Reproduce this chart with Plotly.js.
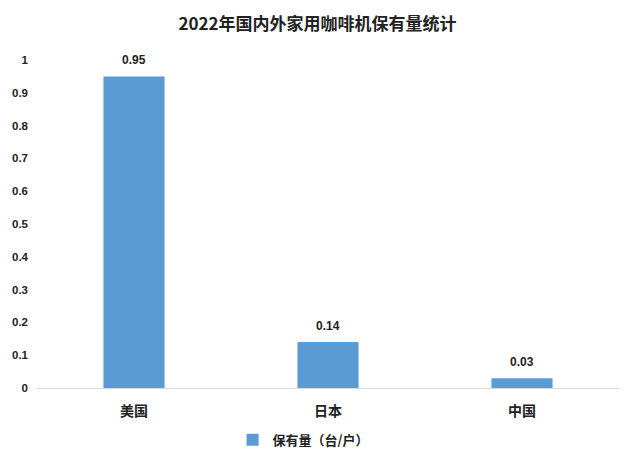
<!DOCTYPE html>
<html>
<head>
<meta charset="utf-8">
<script src="https://cdn.plot.ly/plotly-3.0.1.min.js"></script>
<style>html,body{margin:0;padding:0;background:#fff;}#chart{width:635px;height:459px;}</style>
</head>
<body>
<div id="chart"></div>
<script>
var categories = ['美国', '日本', '中国'];
var values = [0.95, 0.14, 0.03];
var seriesName = '保有量（台/户）';
var yTicks = [0, 0.1, 0.2, 0.3, 0.4, 0.5, 0.6, 0.7, 0.8, 0.9, 1];
var yTickLabels = ['0', '0.1', '0.2', '0.3', '0.4', '0.5', '0.6', '0.7', '0.8', '0.9', '1'];
var titleText = '2022年国内外家用咖啡机保有量统计';

var FONT = '"Noto Sans CJK SC", "Noto Sans", sans-serif';
var NUMFONT = '"Liberation Sans", "Noto Sans", sans-serif';

var trace = {
  type: 'bar',
  x: categories,
  y: values,
  name: seriesName,
  marker: {color: '#5B9BD5'},
  showlegend: true,
  hoverinfo: 'none'
};

var annotations = categories.map(function (c, i) {
  return {
    x: c, y: values[i], xref: 'x', yref: 'y',
    text: '<b>' + values[i] + '</b>',
    showarrow: false, yanchor: 'bottom', yshift: 7,
    font: {family: NUMFONT, size: 12, color: '#222'}
  };
});

var layout = {
  width: 635, height: 459,
  margin: {l: 37, r: 16, t: 60, b: 71},
  paper_bgcolor: '#fff', plot_bgcolor: '#fff',
  title: {
    text: '<b>' + titleText + '</b>',
    font: {family: FONT, size: 17, color: '#222'},
    x: 0.5, xanchor: 'center', y: 0.948, yanchor: 'middle'
  },
  bargap: 0.685,
  xaxis: {
    type: 'category',
    showline: true, linecolor: '#d9d9d9', linewidth: 1,
    showgrid: false, zeroline: false, ticks: '',
    tickfont: {family: FONT, size: 14, color: '#222', weight: 'bold'},
    ticklabelstandoff: 10, automargin: false
  },
  yaxis: {
    range: [0, 1],
    tickvals: yTicks, ticktext: yTickLabels,
    showgrid: false, zeroline: false, showline: false, ticks: '',
    tickfont: {family: NUMFONT, size: 11.5, color: '#222', weight: 'bold'},
    ticklabelstandoff: 8, automargin: false
  },
  legend: {
    orientation: 'h', x: 0.458, xanchor: 'center',
    yref: 'container', y: 0.042, yanchor: 'middle',
    font: {family: FONT, size: 13, color: '#222', weight: 'bold'},
    itemwidth: 30
  },
  annotations: annotations
};

Plotly.newPlot('chart', [trace], layout, {displayModeBar: false, staticPlot: true});
</script>
</body>
</html>
